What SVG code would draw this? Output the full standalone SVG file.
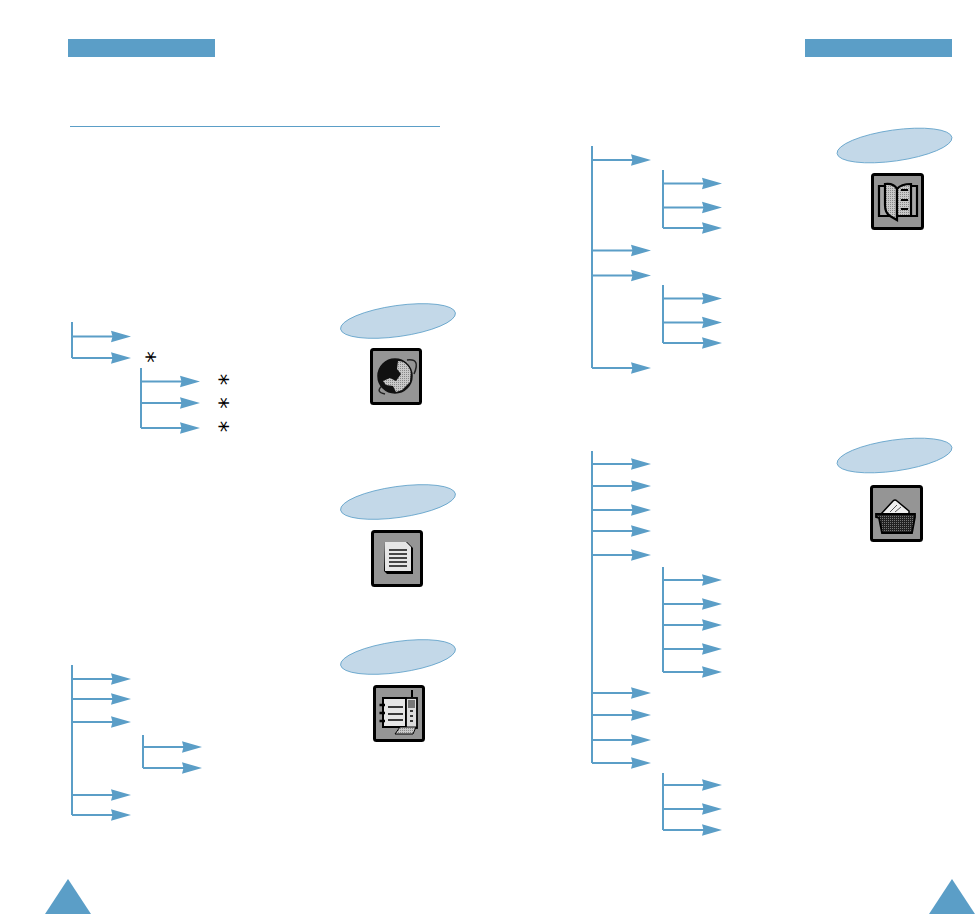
<svg xmlns="http://www.w3.org/2000/svg" width="975" height="914" viewBox="0 0 975 914">
<style>
.band{fill:#5b9ec7}
.c{fill:none;stroke:#5b9ec7;stroke-width:2}
.e{fill:#c3d8e8;stroke:#5b9ec7;stroke-width:.8}
.box{fill:#959595;stroke:#000;stroke-width:3}
.star{font-family:"DejaVu Sans",sans-serif;font-size:23px;fill:#000;text-anchor:middle}
</style>
<defs>
<marker id="a" markerUnits="userSpaceOnUse" markerWidth="22" markerHeight="14" refX="2" refY="7" orient="auto"><path d="M0 1.200L20 7L0 12.800L1.500 7Z" fill="#5b9ec7"/></marker>
<pattern id="dots" width="2" height="2" patternUnits="userSpaceOnUse"><rect width="2" height="2" fill="#c8c8c8"/><rect width="1" height="1" fill="#888"/></pattern>
<pattern id="mesh" width="2" height="2" patternUnits="userSpaceOnUse"><rect width="2" height="2" fill="#222"/><rect width="1" height="1" fill="#777"/></pattern>
</defs>
<rect class="band" x="68" y="39" width="147" height="18"/>
<rect class="band" x="805" y="39" width="147" height="18"/>
<path d="M70 126.500H440" stroke="#5b9ec7" stroke-width="1" fill="none"/>
<path class="band" d="M68 879L91 914H45Z"/>
<path class="band" d="M952 879L975 914H929Z"/>
<g id="connectors">
<path class="c" d="M72 322V358"/>
<path class="c" marker-end="url(#a)" d="M72 336.500H113"/>
<path class="c" marker-end="url(#a)" d="M72 358H113"/>
<path class="c" d="M141 368V428"/>
<path class="c" marker-end="url(#a)" d="M141 381.500H182"/>
<path class="c" marker-end="url(#a)" d="M141 403H182"/>
<path class="c" marker-end="url(#a)" d="M141 428H182"/>
<path class="c" d="M72 665V815"/>
<path class="c" marker-end="url(#a)" d="M72 679H113"/>
<path class="c" marker-end="url(#a)" d="M72 699H113"/>
<path class="c" marker-end="url(#a)" d="M72 722H113"/>
<path class="c" marker-end="url(#a)" d="M72 795H113"/>
<path class="c" marker-end="url(#a)" d="M72 815H113"/>
<path class="c" d="M143 735V768"/>
<path class="c" marker-end="url(#a)" d="M143 747H184"/>
<path class="c" marker-end="url(#a)" d="M143 768H184"/>
<path class="c" d="M592 146V368"/>
<path class="c" marker-end="url(#a)" d="M592 160H633"/>
<path class="c" marker-end="url(#a)" d="M592 250.500H633"/>
<path class="c" marker-end="url(#a)" d="M592 275.500H633"/>
<path class="c" marker-end="url(#a)" d="M592 368H633"/>
<path class="c" d="M663 170V228"/>
<path class="c" marker-end="url(#a)" d="M663 183.500H704"/>
<path class="c" marker-end="url(#a)" d="M663 207.500H704"/>
<path class="c" marker-end="url(#a)" d="M663 228H704"/>
<path class="c" d="M663 285V343"/>
<path class="c" marker-end="url(#a)" d="M663 298.500H704"/>
<path class="c" marker-end="url(#a)" d="M663 322.500H704"/>
<path class="c" marker-end="url(#a)" d="M663 343H704"/>
<path class="c" d="M592 451V763"/>
<path class="c" marker-end="url(#a)" d="M592 464H633"/>
<path class="c" marker-end="url(#a)" d="M592 486H633"/>
<path class="c" marker-end="url(#a)" d="M592 510H633"/>
<path class="c" marker-end="url(#a)" d="M592 531H633"/>
<path class="c" marker-end="url(#a)" d="M592 555H633"/>
<path class="c" marker-end="url(#a)" d="M592 693H633"/>
<path class="c" marker-end="url(#a)" d="M592 715H633"/>
<path class="c" marker-end="url(#a)" d="M592 740H633"/>
<path class="c" marker-end="url(#a)" d="M592 763H633"/>
<path class="c" d="M663 567V672"/>
<path class="c" marker-end="url(#a)" d="M663 580H704"/>
<path class="c" marker-end="url(#a)" d="M663 604H704"/>
<path class="c" marker-end="url(#a)" d="M663 625H704"/>
<path class="c" marker-end="url(#a)" d="M663 649H704"/>
<path class="c" marker-end="url(#a)" d="M663 672H704"/>
<path class="c" d="M663 773V830"/>
<path class="c" marker-end="url(#a)" d="M663 785H704"/>
<path class="c" marker-end="url(#a)" d="M663 809H704"/>
<path class="c" marker-end="url(#a)" d="M663 830H704"/>
</g>
<g id="stars">
<text class="star" transform="translate(148.500 357) rotate(90)" y="10">*</text>
<text class="star" transform="translate(221.500 379.500) rotate(90)" y="10">*</text>
<text class="star" transform="translate(221.500 403) rotate(90)" y="10">*</text>
<text class="star" transform="translate(221.500 426.500) rotate(90)" y="10">*</text>
</g>
<g id="node-globe">
<ellipse class="e" cx="398" cy="321" rx="58" ry="15.500" transform="rotate(-8 398 321)"/>
<rect class="box" x="371.500" y="349.500" width="49" height="54" rx="2"/>
<path d="M407 360Q421 358 414 374M382 386Q375 392 385 394" fill="none" stroke="#222" stroke-width="1.500"/>
<circle cx="395" cy="376" r="17" fill="#111"/>
<path d="M398 361L407 362L411 370L410 382L402 390L396 392L393 386L386 385L383 381L390 378L396 381L401 374L397 369Z" fill="url(#dots)"/>
<circle cx="395" cy="376" r="17" fill="none" stroke="#111" stroke-width="1.500"/>
</g>
<g id="node-document">
<ellipse class="e" cx="398" cy="502" rx="58" ry="15.500" transform="rotate(-8 398 502)"/>
<rect class="box" x="372.500" y="531.500" width="49" height="54" rx="2"/>
<path d="M385 542H407L413 548V574H387L384 571Z" fill="#000"/>
<path d="M385 542H406L411 547V571H385Z" fill="#e6e6e6"/>
<path d="M389 550H407M389 554H407M389 558H407M389 562H407M389 566H407" stroke="#111" stroke-width="1.400"/>
</g>
<g id="node-notebook">
<ellipse class="e" cx="398" cy="657" rx="58" ry="15.500" transform="rotate(-8 398 657)"/>
<rect class="box" x="374.500" y="686.500" width="49" height="54" rx="2"/>
<path d="M383 698H406V727H383Z" fill="#e6e6e6" stroke="#000" stroke-width="2"/>
<path d="M388 707H403M388 714H403M388 720H403" stroke="#000" stroke-width="1.700"/>
<path d="M379.500 705H385M379.500 713H385M379.500 721H385" stroke="#000" stroke-width="2.500"/>
<rect x="406" y="698" width="11" height="30" fill="#ddd" stroke="#000" stroke-width="1.800"/>
<rect x="408" y="700" width="7" height="8" fill="#777"/>
<path d="M410 711h3M410 716h3M410 721h3" stroke="#000" stroke-width="1.700"/>
<path d="M412 697V690" stroke="#000" stroke-width="2"/>
<path d="M395 734L400 727H416L413 734Z" fill="url(#dots)" stroke="#000"/>
</g>
<g id="node-book">
<ellipse class="e" cx="894.500" cy="145.500" rx="58" ry="15.500" transform="rotate(-8 894.500 145.500)"/>
<rect class="box" x="872.500" y="174.500" width="50" height="54" rx="2"/>
<path d="M885 186H879V216H890M910 186H917V216H900" fill="#a8a8a8" stroke="#000" stroke-width="2.200"/>
<path d="M885 184Q894 183 897 189V220L890 216Q885 213 885 205Z" fill="url(#dots)" stroke="#000" stroke-width="2.200"/>
<path d="M897 189Q901 184 911 184V216H897Z" fill="url(#dots)" stroke="#000" stroke-width="2.200"/>
<path d="M901 190H908M901 200H908M901 209H908" stroke="#000" stroke-width="2.200"/>
</g>
<g id="node-basket">
<ellipse class="e" cx="894.500" cy="455.500" rx="58" ry="15.500" transform="rotate(-8 894.500 455.500)"/>
<rect class="box" x="871.500" y="486.500" width="50" height="54" rx="2"/>
<path d="M881 514L893 501Q895 499 897 501L909 511L909 514Z" fill="#eee" stroke="#000" stroke-width="1.500"/>
<path d="M890 512L897 505M895 512L901 507" stroke="#555"/>
<path d="M876 514H915V517L912 533H882L879 518L876 517Z" fill="url(#mesh)" stroke="#000" stroke-width="1.800"/>
</g>
</svg>
